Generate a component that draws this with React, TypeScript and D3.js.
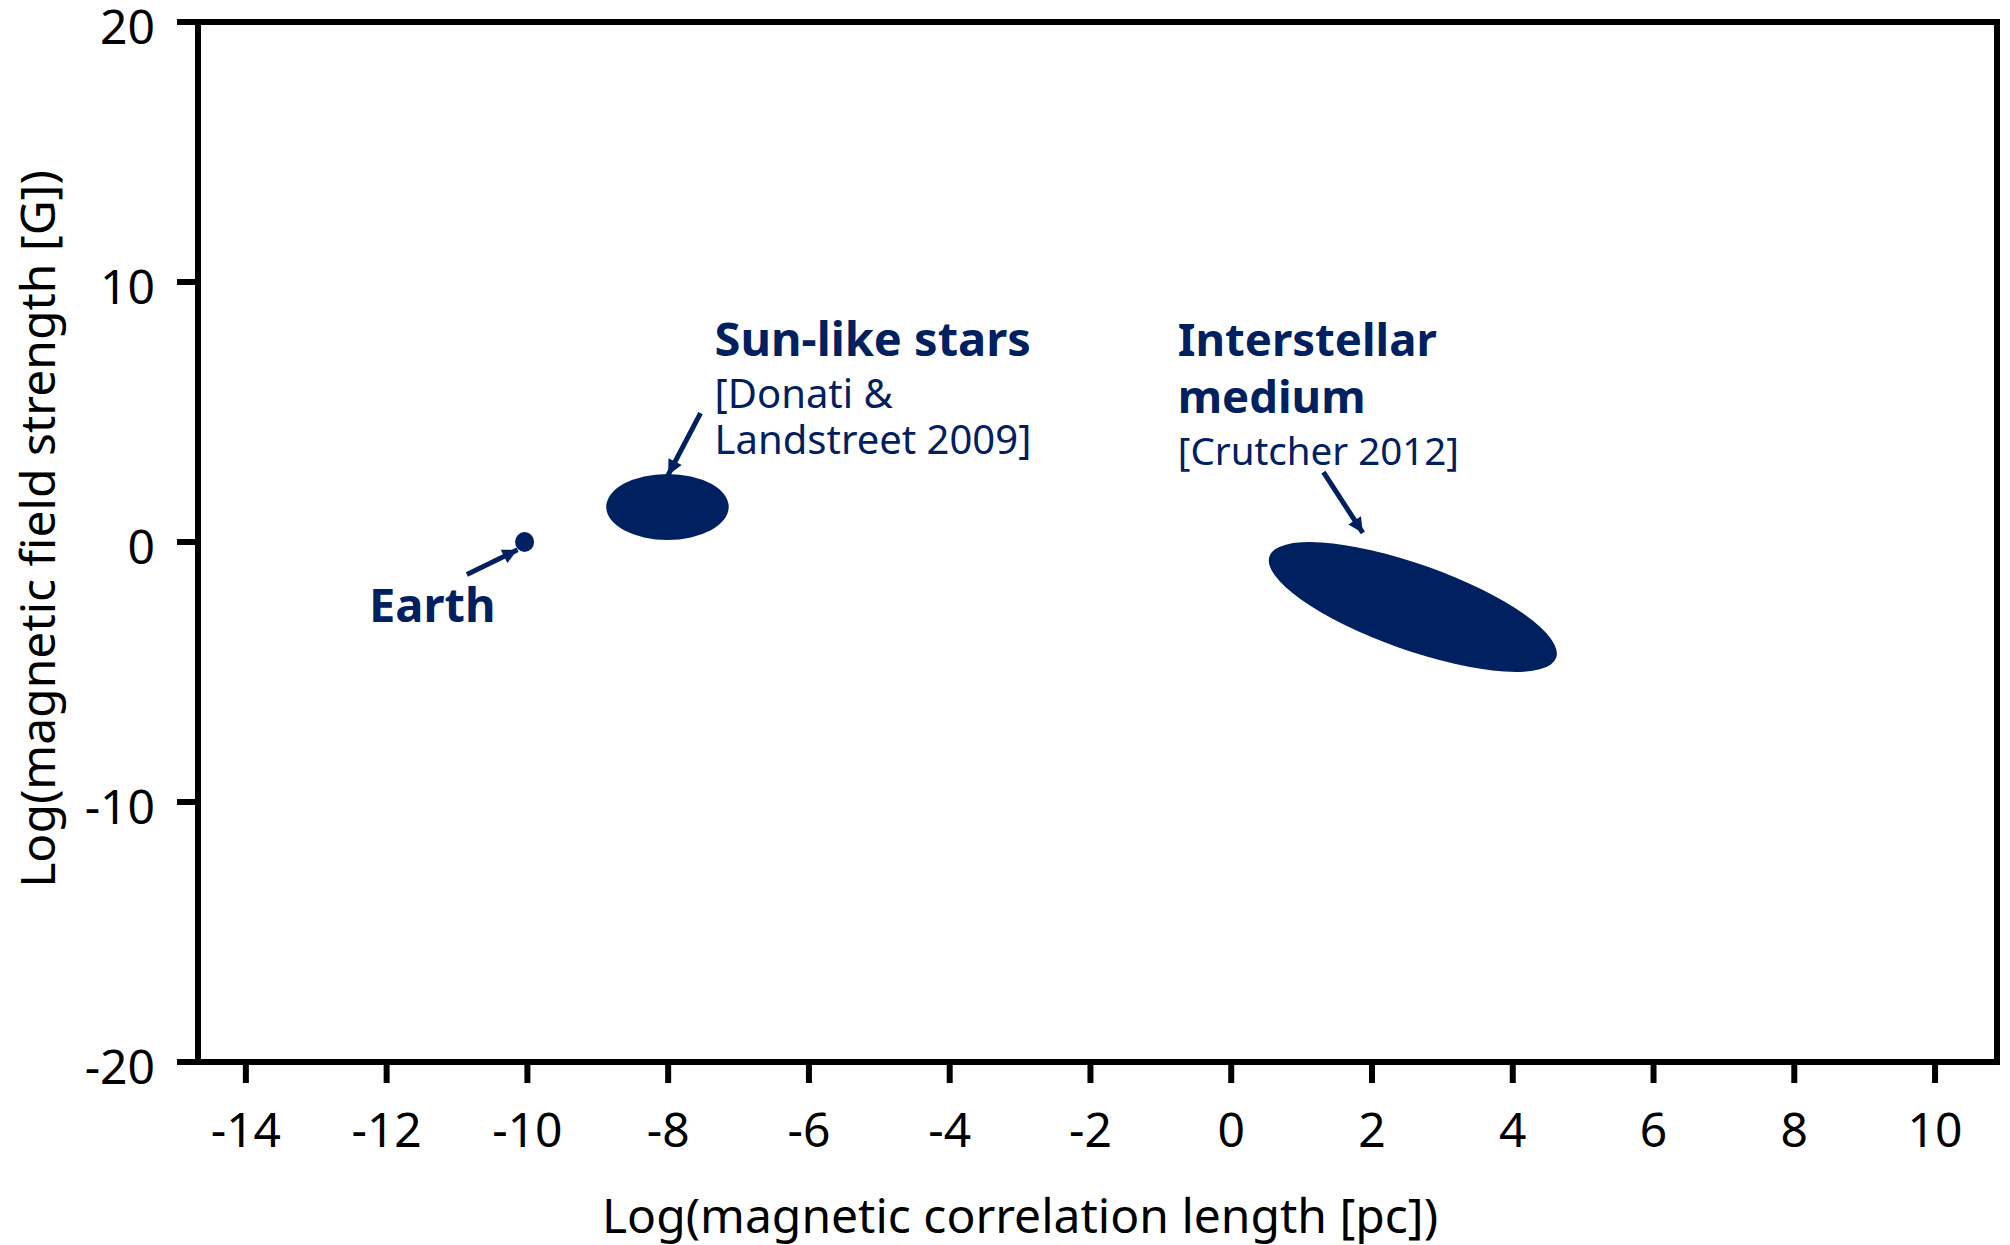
import React from "react";
import * as d3 from "d3";

const X_TICKS = [-14, -12, -10, -8, -6, -4, -2, 0, 2, 4, 6, 8, 10];
const Y_TICKS = [20, 10, 0, -10, -20];
const X_DOMAIN = [-14.68, 10.88];
const Y_DOMAIN = [-20, 20];

const REGION_NAMES = ["Earth", "Sun-like stars", "Interstellar medium"];
const REGION_CX = [-10.04, -8.01, 2.58];
const REGION_CY = [0.0, 1.35, -2.5];
const REGION_RX = [0.135, 0.87, 2.16];
const REGION_RY = [0.38, 1.27, 1.65];
const REGION_ANGLE = [0, 0, 19.5];

const ARROW_FROM = [[-10.86, -1.25], [-7.54, 4.96], [1.31, 2.69]];
const ARROW_TO = [[-10.14, -0.3], [-8.0, 2.58], [1.87, 0.35]];

const LABEL_TITLE = [["Earth"], ["Sun-like stars"], ["Interstellar", "medium"]];
const LABEL_REF = [[], ["[Donati &", "Landstreet 2009]"], ["[Crutcher 2012]"]];
const LABEL_X = [-12.25, -7.34, -0.76];
const LABEL_Y = [-3.08, 7.15, 7.15];
const TITLE_SIZE = [47, 47, 45.5];
const REF_SIZE = [40, 40, 38.5];

const X_TITLE = "Log(magnetic correlation length [pc])";
const Y_TITLE = "Log(magnetic field strength [G])";

const NAVY = "#002060";
const FONT = "'Noto Sans', 'Open Sans', sans-serif";

export default function App() {
  const W = 2010, H = 1245;
  const x = d3.scaleLinear().domain(X_DOMAIN).range([198, 1997]);
  const y = d3.scaleLinear().domain(Y_DOMAIN).range([1062, 22]);
  const x0 = x(X_DOMAIN[0]), x1 = x(X_DOMAIN[1]);
  const y0 = y(Y_DOMAIN[0]), y1 = y(Y_DOMAIN[1]);
  const pxPerX = x(1) - x(0);
  const pxPerY = y(0) - y(1);

  return (
    <svg width={W} height={H} style={{ position: "absolute", left: 0, top: 0, background: "#fff" }}
      fontFamily={FONT}>
      <defs>
        <marker id="ah" viewBox="0 0 10 10" refX="10" refY="5" markerWidth="17" markerHeight="15"
          markerUnits="userSpaceOnUse" orient="auto">
          <path d="M0,0 L10,5 L0,10 z" fill={NAVY} />
        </marker>
      </defs>
      <rect x={0} y={0} width={W} height={H} fill="#fff" />
      {/* frame */}
      <rect x={x0} y={y1} width={x1 - x0} height={y0 - y1} fill="none" stroke="#000" strokeWidth={6} />
      {/* x ticks */}
      {X_TICKS.map((t) => (
        <g key={"xt" + t}>
          <line x1={x(t)} x2={x(t)} y1={y0} y2={y0 + 21} stroke="#000" strokeWidth={6} />
          <text x={x(t)} y={1147} textAnchor="middle" fontSize={48} fill="#000">{t < 0 ? "-" + Math.abs(t) : t}</text>
        </g>
      ))}
      {/* y ticks */}
      {Y_TICKS.map((t) => (
        <g key={"yt" + t}>
          <line x1={x0 - 21} x2={x0} y1={y(t)} y2={y(t)} stroke="#000" strokeWidth={6} />
          <text x={155} y={y(t) + 22} textAnchor="end" fontSize={48} fill="#000">{t < 0 ? "-" + Math.abs(t) : t}</text>
        </g>
      ))}
      <text x={1020} y={1233} textAnchor="middle" fontSize={48} fill="#000">{X_TITLE}</text>
      <text transform={`translate(55,529) rotate(-90)`} textAnchor="middle" fontSize={48} fill="#000">{Y_TITLE}</text>

      {/* regions */}
      {REGION_NAMES.map((n, i) => (
        <ellipse key={n} cx={0} cy={0} rx={REGION_RX[i] * pxPerX} ry={REGION_RY[i] * pxPerY}
          transform={`translate(${x(REGION_CX[i])},${y(REGION_CY[i])}) rotate(${REGION_ANGLE[i]})`}
          fill={NAVY} />
      ))}
      {/* arrows */}
      {ARROW_FROM.map((f, i) => (
        <line key={"ar" + i} x1={x(f[0])} y1={y(f[1])} x2={x(ARROW_TO[i][0])} y2={y(ARROW_TO[i][1])}
          stroke={NAVY} strokeWidth={5} markerEnd="url(#ah)" />
      ))}
      {/* labels */}
      {REGION_NAMES.map((n, i) => {
        const lx = x(LABEL_X[i]);
        const ly = y(LABEL_Y[i]);
        const titles = LABEL_TITLE[i];
        return (
          <g key={"lab" + n} fill={NAVY}>
            {titles.map((t, j) => (
              <text key={t} x={lx} y={ly + j * 57} fontSize={TITLE_SIZE[i]} fontWeight={700}>{t}</text>
            ))}
            {LABEL_REF[i].map((t, j) => (
              <text key={t} x={lx} y={ly + (titles.length - 1) * 57 + 52 + j * 46} fontSize={REF_SIZE[i]}>{t}</text>
            ))}
          </g>
        );
      })}
    </svg>
  );
}
